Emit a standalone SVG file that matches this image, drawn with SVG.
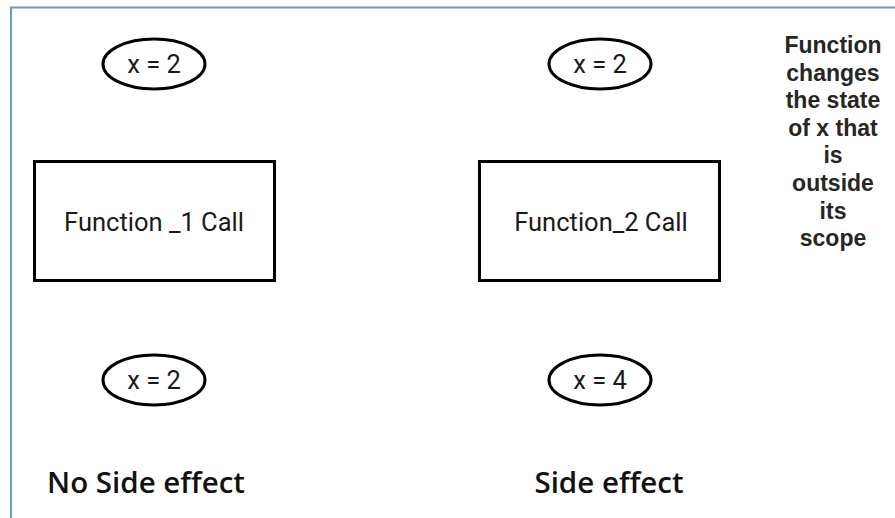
<svg xmlns="http://www.w3.org/2000/svg" width="895" height="518" viewBox="0 0 895 518">
<style>
.frame{fill:none;stroke:#6f95c9;stroke-width:2}
.box{fill:#fff;stroke:#000;stroke-width:3}
.ell{fill:#fff;stroke:#000;stroke-width:3}
.t{font-family:Roboto,"Liberation Sans",Arial,sans-serif;font-size:25.5px;font-weight:400;fill:#1a1a1a;text-anchor:middle}
.note{font-family:"Liberation Sans",Arial,sans-serif;font-size:23px;fill:#262626;text-anchor:middle;font-weight:bold}
.cap{font-family:"Open Sans","Noto Sans",sans-serif;font-size:29.5px;font-weight:600;fill:#111;text-anchor:middle}
</style>
<rect width="895" height="518" fill="#fff"/>
<path class="frame" d="M11,518 V7.5 H895"/>
<g id="x-before-1"><ellipse class="ell" cx="154" cy="64" rx="51" ry="25"/><text class="t" x="154" y="73">x = 2</text></g>
<g id="x-before-2"><ellipse class="ell" cx="600" cy="64" rx="51" ry="25"/><text class="t" x="600" y="73">x = 2</text></g>
<g id="function1"><rect class="box" x="34.5" y="161.5" width="240" height="119"/><text class="t" x="154" y="231">Function _1 Call</text></g>
<g id="function2"><rect class="box" x="479.5" y="161.5" width="240" height="119"/><text class="t" x="601" y="231">Function_2 Call</text></g>
<g id="x-after-1"><ellipse class="ell" cx="154" cy="380" rx="51" ry="25"/><text class="t" x="154" y="389">x = 2</text></g>
<g id="x-after-2"><ellipse class="ell" cx="600" cy="380" rx="51" ry="25"/><text class="t" x="600" y="389">x = 4</text></g>
<g id="note"><text class="note"><tspan x="833" y="53">Function</tspan><tspan x="833" y="80.6">changes</tspan><tspan x="833" y="108.2">the state</tspan><tspan x="833" y="135.8">of x that</tspan><tspan x="833" y="163.4">is</tspan><tspan x="833" y="191">outside</tspan><tspan x="833" y="218.6">its</tspan><tspan x="833" y="246.2">scope</tspan></text></g>
<g id="label-no-side-effect"><text class="cap" x="146" y="493">No Side effect</text></g>
<g id="label-side-effect"><text class="cap" x="609" y="493">Side effect</text></g>
<g id="connectors"></g>
</svg>
